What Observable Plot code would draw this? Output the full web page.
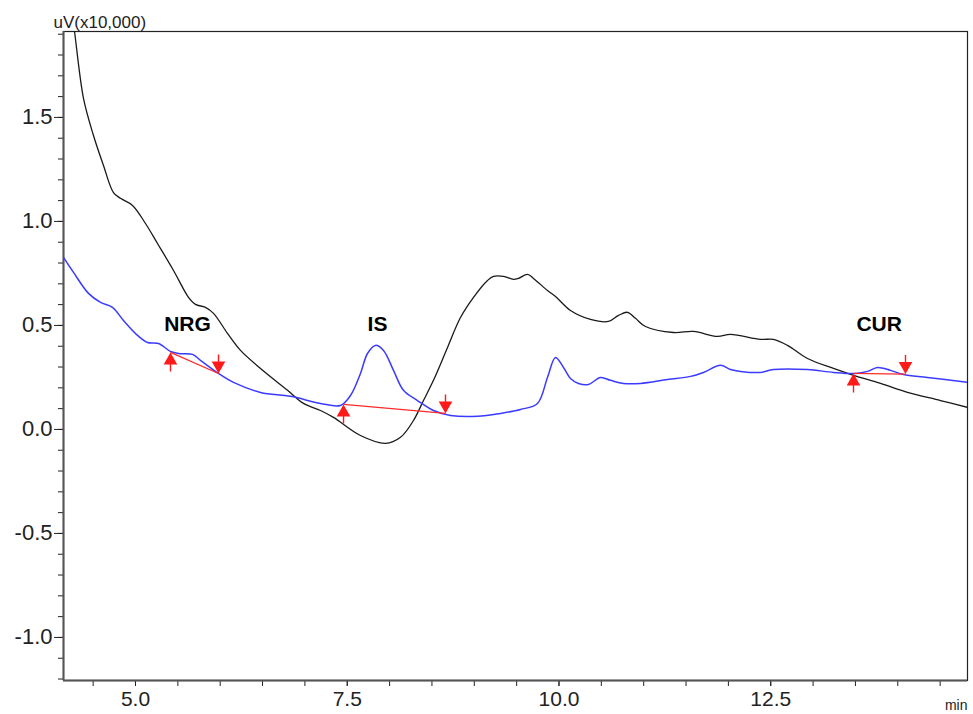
<!DOCTYPE html>
<html><head><meta charset="utf-8">
<script src="https://cdn.jsdelivr.net/npm/d3@7"></script>
<script src="https://cdn.jsdelivr.net/npm/@observablehq/plot@0.6"></script>
<style>body{margin:0;background:#fff;}</style>
</head><body><div id="chart"></div>
<script>
// Black trace (time in min, signal in uV x10,000)
const blackT = [4.268,4.280,4.386,4.504,4.622,4.740,4.823,4.965,5.118,5.260,5.449,5.626,5.708,5.826,5.921,6.086,6.240,6.476,6.795,6.983,7.184,7.338,7.656,7.952,8.129,8.282,8.400,8.518,8.684,8.837,8.991,9.156,9.227,9.345,9.463,9.522,9.628,9.699,9.864,9.959,10.136,10.372,10.584,10.702,10.809,10.903,11.021,11.352,11.588,11.871,12.025,12.379,12.532,12.698,12.934,13.241,13.477,13.796,14.114,14.504,14.823];
const blackV = [1.942,1.913,1.591,1.413,1.269,1.139,1.111,1.077,0.990,0.894,0.764,0.635,0.601,0.587,0.558,0.462,0.380,0.293,0.188,0.125,0.091,0.058,-0.029,-0.067,-0.038,0.043,0.139,0.236,0.394,0.538,0.635,0.716,0.736,0.736,0.721,0.726,0.745,0.726,0.668,0.639,0.572,0.529,0.519,0.548,0.563,0.534,0.495,0.466,0.471,0.447,0.457,0.433,0.433,0.404,0.341,0.293,0.260,0.221,0.178,0.139,0.106];
// Blue trace
const blueT = [4.150,4.268,4.445,4.587,4.728,4.858,5.024,5.142,5.272,5.413,5.508,5.673,5.767,5.980,6.157,6.476,6.830,7.184,7.420,7.538,7.656,7.739,7.833,7.928,8.046,8.164,8.329,8.518,8.719,9.038,9.309,9.545,9.746,9.864,9.959,10.053,10.136,10.230,10.348,10.490,10.608,10.762,10.962,11.281,11.553,11.706,11.907,12.025,12.143,12.379,12.532,12.934,13.241,13.501,13.642,13.760,13.914,14.067,14.350,14.823];
const blueV = [0.827,0.755,0.654,0.611,0.587,0.524,0.452,0.418,0.413,0.375,0.365,0.361,0.332,0.269,0.226,0.178,0.159,0.125,0.115,0.163,0.269,0.365,0.404,0.380,0.284,0.188,0.139,0.091,0.067,0.063,0.077,0.096,0.125,0.250,0.346,0.298,0.245,0.221,0.216,0.250,0.236,0.221,0.221,0.240,0.255,0.274,0.308,0.288,0.279,0.274,0.288,0.288,0.274,0.269,0.279,0.298,0.284,0.264,0.250,0.226];
// Integrated peaks
const peakNames  = ["NRG", "IS", "CUR"];
const peakLabelT = [5.614, 7.857, 13.78];
const peakLabelV = [0.505, 0.505, 0.505];
const peakStartT = [5.413, 7.456, 13.477];
const peakStartV = [0.370, 0.120, 0.269];
const peakEndT   = [5.980, 8.660, 14.091];
const peakEndV   = [0.269, 0.077, 0.266];
// Axes
const xDomain = [4.15, 14.823];
const yDomain = [-1.207, 1.913];
const xMajor = [5, 7.5, 10, 12.5];
const xMinor = [4.5,5,5.5,6,6.5,7,7.5,8,8.5,9,9.5,10,10.5,11,11.5,12,12.5,13,13.5,14,14.5];
const yMajor = [-1, -0.5, 0, 0.5, 1, 1.5];
const yMinor = [-1.2,-1.1,-1,-0.9,-0.8,-0.7,-0.6,-0.5,-0.4,-0.3,-0.2,-0.1,0,0.1,0.2,0.3,0.4,0.5,0.6,0.7,0.8,0.9,1,1.1,1.2,1.3,1.4,1.5,1.6,1.7,1.8,1.9];

const black = blackT.map((t, i) => ({t, v: blackV[i]}));
const blue = blueT.map((t, i) => ({t, v: blueV[i]}));
const peaks = peakNames.map((name, i) => ({name, lt: peakLabelT[i], lv: peakLabelV[i], t0: peakStartT[i], v0: peakStartV[i], t1: peakEndT[i], v1: peakEndV[i]}));

const upArrow = {draw(ctx) {
  ctx.moveTo(0, 0); ctx.lineTo(6.8, 12); ctx.lineTo(0.7, 12); ctx.lineTo(0.7, 19);
  ctx.lineTo(-0.7, 19); ctx.lineTo(-0.7, 12); ctx.lineTo(-6.8, 12); ctx.closePath();
}};
const downArrow = {draw(ctx) {
  ctx.moveTo(0, 0); ctx.lineTo(6.8, -12); ctx.lineTo(0.7, -12); ctx.lineTo(0.7, -19);
  ctx.lineTo(-0.7, -19); ctx.lineTo(-0.7, -12); ctx.lineTo(-6.8, -12); ctx.closePath();
}};

const chart = Plot.plot({
  width: 973, height: 714,
  marginLeft: 63, marginRight: 6, marginTop: 31, marginBottom: 34,
  style: {fontFamily: "'Liberation Sans', Arial, sans-serif", background: "#fff", color: "#222"},
  x: {domain: xDomain},
  y: {domain: yDomain},
  marks: [
    Plot.axisY(yMinor, {tickSize: 5, tickFormat: () => "", label: null}),
    Plot.axisY(yMajor, {tickSize: 9, tickPadding: 2, tickFormat: d => d.toFixed(1), fontSize: 22, label: null}),
    Plot.axisX(xMinor, {tickSize: 6, tickFormat: () => "", label: null}),
    Plot.axisX(xMajor, {tickSize: 6, tickPadding: 5, tickFormat: d => d.toFixed(1), fontSize: 21, label: null}),
    Plot.frame({stroke: "#222", strokeWidth: 1.2}),
    Plot.ruleX([xDomain[0]], {stroke: "#555", strokeWidth: 2}),
    Plot.ruleY([yDomain[0]], {stroke: "#555", strokeWidth: 2}),
    Plot.line(black, {x: "t", y: "v", stroke: "#1a1a1a", strokeWidth: 1.3, curve: "catmull-rom", clip: true}),
    Plot.line(blue, {x: "t", y: "v", stroke: "#3b3bff", strokeWidth: 1.5, curve: "catmull-rom", clip: true}),
    Plot.link(peaks, {x1: "t0", y1: "v0", x2: "t1", y2: "v1", stroke: "#ff2a2a", strokeWidth: 1.3}),
    Plot.dot(peaks, {x: "t0", y: "v0", symbol: upArrow, fill: "#ff1a1a", stroke: "none", r: 5}),
    Plot.dot(peaks, {x: "t1", y: "v1", symbol: downArrow, fill: "#ff1a1a", stroke: "none", r: 5}),
    Plot.text(peaks, {x: "lt", y: "lv", text: "name", fontSize: 21, fontWeight: "bold", fill: "#000"}),
    Plot.text(["uV(x10,000)"], {frameAnchor: "top-left", dx: -10, dy: -4, lineAnchor: "bottom", textAnchor: "start", fontSize: 17, fill: "#222"}),
    Plot.text(["min"], {frameAnchor: "bottom-right", dx: 0, dy: 29, textAnchor: "end", fontSize: 14, fill: "#222"})
  ]
});
document.getElementById("chart").appendChild(chart);
</script>
</body></html>
